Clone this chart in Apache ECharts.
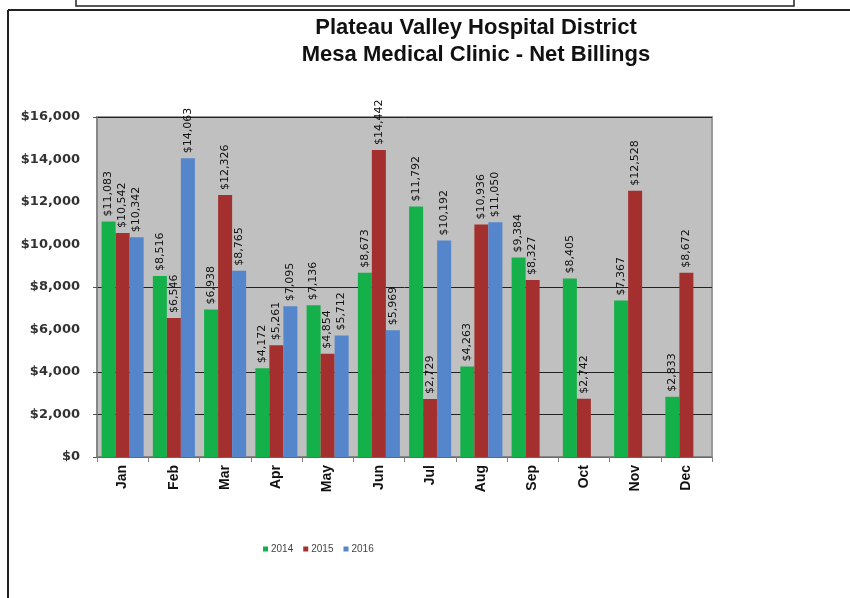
<!DOCTYPE html>
<html><head><meta charset="utf-8">
<script src="https://cdn.jsdelivr.net/npm/echarts@6/dist/echarts.min.js"></script>
<style>html,body{margin:0;padding:0;background:#fff}#c{width:850px;height:598px}</style>
</head><body><div id="c"></div>
<script>
const months = ['Jan','Feb','Mar','Apr','May','Jun','Jul','Aug','Sep','Oct','Nov','Dec'];
const v2014 = [11083, 8516, 6938, 4172, 7136, 8673, 11792, 4263, 9384, 8405, 7367, 2833];
const v2015 = [10542, 6546, 12326, 5261, 4854, 14442, 2729, 10936, 8327, 2742, 12528, 8672];
const v2016 = [10342, 14063, 8765, 7095, 5712, 5969, 10192, 11050, null, null, null, null];
const yTicks = [0, 2000, 4000, 8000, 16000];
const yLabels = [0, 2000, 4000, 6000, 8000, 10000, 12000, 14000, 16000];

const money = v => '$' + Number(v).toLocaleString('en-US');
const lbl = {
  show: true, position: 'top', rotate: 90, align: 'left', verticalAlign: 'middle',
  distance: 5, fontSize: 11, color: '#111', fontFamily: 'DejaVu Sans',
  formatter: p => p.value == null ? '' : money(p.value)
};
const chart = echarts.init(document.getElementById('c'));
chart.setOption({
  animation: false,
  textStyle: { fontFamily: 'Liberation Sans' },
  title: {
    text: 'Plateau Valley Hospital District\nMesa Medical Clinic - Net Billings',
    left: 471, top: 9, textAlign: 'center',
    textStyle: { fontSize: 22, fontWeight: 'bold', color: '#111', lineHeight: 27, fontFamily: 'Liberation Sans' }
  },
  legend: {
    left: 258, top: 539, itemWidth: 5, itemHeight: 5, itemGap: 10, icon: 'rect',
    textStyle: { fontSize: 10, color: '#444', padding: [0, 0, 0, -2] }
  },
  grid: {
    left: 97, right: 138, top: 117, bottom: 141, show: true,
    backgroundColor: '#c0c0c0', borderColor: '#9a9a9a', borderWidth: 2
  },
  xAxis: {
    type: 'category', data: months,
    axisLine: { lineStyle: { color: '#808080', width: 1.5 } },
    axisTick: { show: true, lineStyle: { color: '#808080' } },
    axisLabel: { rotate: 90, fontSize: 14, fontWeight: 'bold', color: '#111', margin: 8 }
  },
  yAxis: {
    type: 'value', min: 0, max: 16000,
    axisLine: { show: true, lineStyle: { color: '#808080', width: 1.5 } },
    axisTick: { show: true, customValues: yTicks, length: 4, lineStyle: { color: '#555' } },
    axisLabel: { customValues: yLabels, fontSize: 13, fontWeight: 'bold', color: '#333', margin: 17, fontFamily: 'DejaVu Sans', formatter: v => money(v) },
    splitLine: { show: true, lineStyle: { color: '#222', width: 1 } }
  },
  series: [
    { name: '2014', type: 'bar', data: v2014, itemStyle: { color: '#14b04a' }, barGap: '0%', barCategoryGap: '18%', label: lbl },
    { name: '2015', type: 'bar', data: v2015, itemStyle: { color: '#a3302e' }, label: lbl },
    { name: '2016', type: 'bar', data: v2016, itemStyle: { color: '#5586cc' }, label: lbl }
  ],
  graphic: [
    { type: 'line', shape: { x1: 8, y1: 10, x2: 8, y2: 598 }, style: { stroke: '#222', lineWidth: 2 } },
    { type: 'line', shape: { x1: 8, y1: 10, x2: 850, y2: 10 }, style: { stroke: '#222', lineWidth: 2 } },
    { type: 'polyline', shape: { points: [[76, 0], [76, 6], [794, 6], [794, 0]] }, style: { stroke: '#222', lineWidth: 1.5, fill: null } }
  ]
});
</script></body></html>
